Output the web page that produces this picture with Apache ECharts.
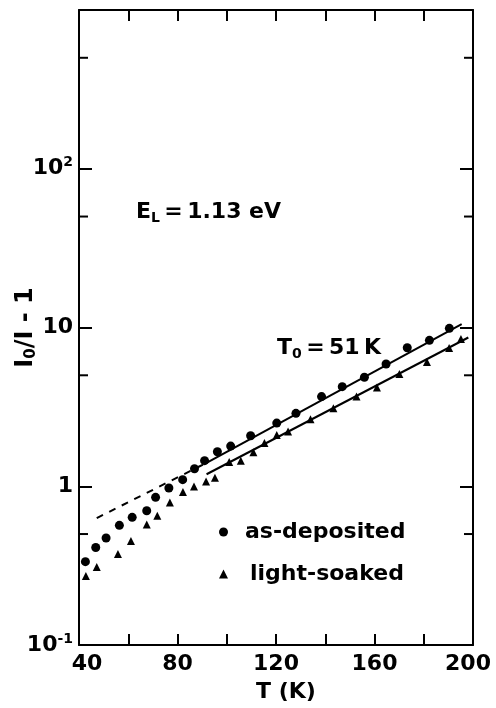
<!DOCTYPE html>
<html>
<head>
    <meta charset="utf-8" />
    <title>I0/I-1 vs T</title>
    <script src="https://cdn.jsdelivr.net/npm/echarts@6.0.0/dist/echarts.min.js"></script>
    <style>
        html, body { margin: 0; padding: 0; background: #fff; }
        #chart { width: 496px; height: 708px; }
    </style>
</head>
<body>
    <div id="chart"></div>
    <script type="text/javascript">
        // as-deposited (circles)
        var depT = [42.6, 46.8, 51.0, 56.4, 61.6, 67.5, 71.1, 76.5, 82.1, 86.9, 91.0, 96.2, 101.6, 109.7, 120.3, 128.1, 138.5, 146.9, 155.9, 164.7, 173.3, 182.3, 190.4];
        var depV = [0.335, 0.411, 0.472, 0.567, 0.637, 0.701, 0.851, 0.975, 1.10, 1.29, 1.45, 1.65, 1.79, 2.08, 2.50, 2.88, 3.67, 4.24, 4.86, 5.89, 7.46, 8.30, 9.88];
        // light-soaked (triangles)
        var soakT = [42.8, 47.2, 55.8, 61.1, 67.5, 71.8, 76.9, 82.2, 86.7, 91.6, 95.2, 101.0, 105.7, 110.8, 115.3, 120.3, 124.9, 134.0, 143.3, 152.7, 161.0, 170.1, 181.3, 190.3, 195.1];
        var soakV = [0.272, 0.310, 0.374, 0.452, 0.574, 0.653, 0.791, 0.920, 0.996, 1.07, 1.13, 1.42, 1.45, 1.64, 1.87, 2.10, 2.21, 2.64, 3.10, 3.67, 4.19, 5.09, 6.06, 7.43, 8.47];
        // fitted lines
        var fitUpT = [91.6, 195.4];
        var fitUpV = [1.40, 10.5];
        var dashUpT = [47.2, 91.6];
        var dashUpV = [0.63, 1.40];
        var fitLowT = [91.8, 198.1];
        var fitLowV = [1.19, 8.65];
        // minor ticks on the log axis
        var minorTicks = [0.5, 5, 50, 500];

        var FONT = 'DejaVu Sans';

        function pairs(xs, ys) {
            var out = [];
            for (var i = 0; i < xs.length; i++) out.push([xs[i], ys[i]]);
            return out;
        }

        var lineStyle = { color: '#000', width: 2 };

        var myChart = echarts.init(document.getElementById('chart'), null, { renderer: 'canvas' });
        myChart.setOption({
            animation: false,
            backgroundColor: '#fff',
            grid: { left: 79, right: 23, top: 10, bottom: 63, outerBoundsMode: 'none' },
            xAxis: [{
                type: 'value',
                min: 40, max: 200, interval: 20,
                name: 'T (K)',
                nameLocation: 'middle',
                nameGap: 36,
                nameMoveOverlap: false,
                nameTextStyle: { fontFamily: FONT, fontSize: 22, fontWeight: 'bold', color: '#000', padding: [0, 0, 0, 20] },
                axisLine: { lineStyle: { color: '#000', width: 2 } },
                axisTick: { inside: true, length: 11, lineStyle: { color: '#000', width: 2 } },
                splitLine: { show: false },
                axisLabel: {
                    margin: 8,
                    fontFamily: FONT, fontSize: 22, fontWeight: 'bold', color: '#000',
                    formatter: function (v) {
                        if (v % 40 !== 0) return '';
                        if (v === 40) return '{l|40}';
                        if (v === 200) return '{r|200}';
                        return String(v);
                    },
                    rich: {
                        l: { fontFamily: FONT, fontSize: 22, fontWeight: 'bold', color: '#000', padding: [0, 0, 0, 16] },
                        r: { fontFamily: FONT, fontSize: 22, fontWeight: 'bold', color: '#000', padding: [0, 10, 0, 0] }
                    }
                }
            }, {
                type: 'value',
                position: 'top',
                min: 40, max: 200, interval: 20,
                axisLine: { lineStyle: { color: '#000', width: 2 } },
                axisTick: { inside: true, length: 11, lineStyle: { color: '#000', width: 2 } },
                axisLabel: { show: false },
                splitLine: { show: false }
            }],
            yAxis: [{
                type: 'log',
                logBase: 10,
                min: 0.1, max: 1000,
                splitNumber: 4,
                name: 'I{s|0}/I - 1',
                nameLocation: 'middle',
                nameGap: 40,
                nameMoveOverlap: false,
                nameTextStyle: {
                    fontFamily: FONT, fontSize: 24, fontWeight: 'bold', color: '#000',
                    rich: { s: { fontFamily: FONT, fontSize: 15, fontWeight: 'bold', color: '#000', padding: [12, 0, 0, 0] } }
                },
                axisLine: { lineStyle: { color: '#000', width: 2 } },
                axisTick: { inside: true, length: 13, lineStyle: { color: '#000', width: 2 } },
                splitLine: { show: false },
                axisLabel: {
                    margin: 6,
                    fontFamily: FONT, fontSize: 22, fontWeight: 'bold', color: '#000',
                    formatter: function (v) {
                        var e = Math.round(Math.log(v) / Math.LN10);
                        if (e === 0) return '1';
                        if (e === 1) return '10';
                        if (e === 3) return '';
                        return '10{sup|' + (e < 0 ? '-' + (-e) : e) + '}';
                    },
                    rich: {
                        sup: { fontFamily: FONT, fontSize: 14, fontWeight: 'bold', color: '#000', padding: [0, 0, 12, 0] }
                    }
                }
            }, {
                type: 'log',
                logBase: 10,
                position: 'right',
                min: 0.1, max: 1000,
                splitNumber: 4,
                axisLine: { lineStyle: { color: '#000', width: 2 } },
                axisTick: { inside: true, length: 13, lineStyle: { color: '#000', width: 2 } },
                axisLabel: { show: false },
                splitLine: { show: false }
            }],
            legend: {
                orient: 'vertical',
                left: 214,
                top: 513,
                itemWidth: 9,
                itemHeight: 9,
                itemGap: 14,
                textStyle: { fontFamily: FONT, fontSize: 22, fontWeight: 'bold', color: '#000', lineHeight: 28, padding: [0, 0, 0, 12] },
                data: [
                    { name: 'as-deposited', icon: 'circle', itemStyle: { color: '#000', opacity: 1 } },
                    { name: 'light-soaked', icon: 'triangle', itemStyle: { color: '#000', opacity: 1 }, textStyle: { fontFamily: FONT, fontSize: 22, fontWeight: 'bold', color: '#000', lineHeight: 28, padding: [0, 0, 0, 17] } }
                ]
            },
            graphic: [{
                type: 'text',
                left: 136,
                top: 201,
                style: {
                    text: '{m|E}{s|L}{m|\u2009=\u20091.13 eV}',
                    fill: '#000',
                    rich: {
                        m: { fontFamily: FONT, fontSize: 22, fontWeight: 'bold', fill: '#000' },
                        s: { fontFamily: FONT, fontSize: 14, fontWeight: 'bold', fill: '#000', padding: [12, 0, 0, 0] }
                    }
                }
            }, {
                type: 'text',
                left: 277,
                top: 337,
                style: {
                    text: '{m|T}{s|0}{m|\u2009=\u200951\u2009K}',
                    fill: '#000',
                    rich: {
                        m: { fontFamily: FONT, fontSize: 22, fontWeight: 'bold', fill: '#000' },
                        s: { fontFamily: FONT, fontSize: 14, fontWeight: 'bold', fill: '#000', padding: [12, 0, 0, 0] }
                    }
                }
            }],
            series: [{
                name: 'as-deposited',
                type: 'scatter',
                symbol: 'circle',
                symbolSize: 9,
                itemStyle: { color: '#000', opacity: 1 },
                data: pairs(depT, depV),
                z: 5
            }, {
                name: 'light-soaked',
                type: 'scatter',
                symbol: 'triangle',
                symbolSize: 8,
                itemStyle: { color: '#000', opacity: 1 },
                data: pairs(soakT, soakV),
                z: 5
            }, {
                name: 'fit-up',
                type: 'line',
                showSymbol: false,
                silent: true,
                lineStyle: lineStyle,
                data: pairs(fitUpT, fitUpV)
            }, {
                name: 'fit-up-extrap',
                type: 'line',
                showSymbol: false,
                silent: true,
                lineStyle: { color: '#000', width: 2, type: [7, 7] },
                data: pairs(dashUpT, dashUpV)
            }, {
                name: 'fit-low',
                type: 'line',
                showSymbol: false,
                silent: true,
                lineStyle: lineStyle,
                data: pairs(fitLowT, fitLowV)
            }, {
                name: 'minor-ticks',
                type: 'custom',
                silent: true,
                data: minorTicks.map(function (v) { return [40, v]; }),
                encode: { x: 0, y: 1 },
                renderItem: function (params, api) {
                    var y = api.value(1);
                    var l = api.coord([40, y]);
                    var r = api.coord([200, y]);
                    var st = { stroke: '#000', lineWidth: 2 };
                    return {
                        type: 'group',
                        children: [
                            { type: 'line', shape: { x1: l[0], y1: l[1], x2: l[0] + 9, y2: l[1] }, style: st },
                            { type: 'line', shape: { x1: r[0] - 9, y1: r[1], x2: r[0], y2: r[1] }, style: st }
                        ]
                    };
                }
            }]
        });
    </script>
</body>
</html>
